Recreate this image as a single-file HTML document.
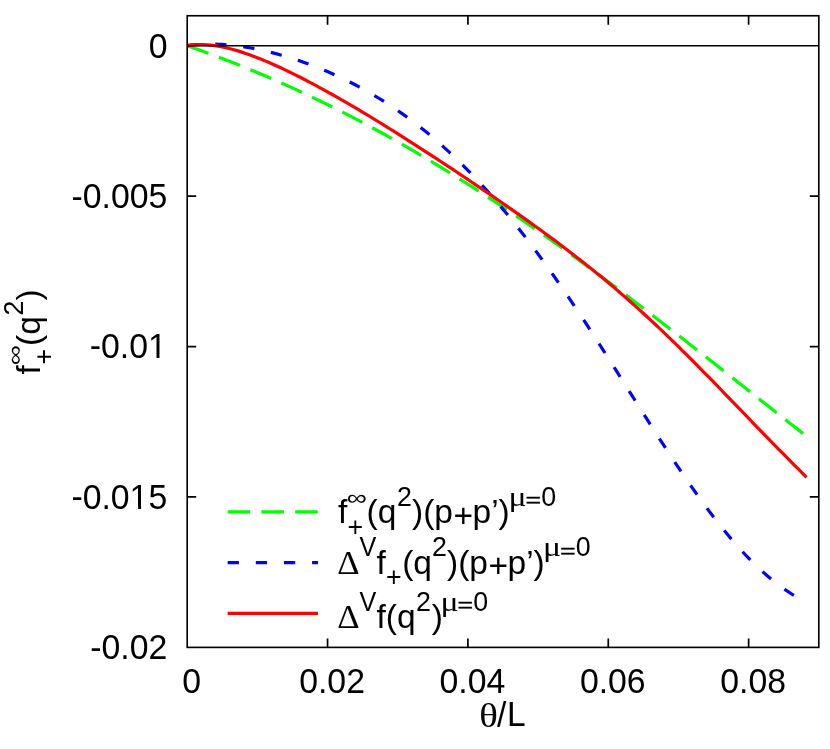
<!DOCTYPE html>
<html><head><meta charset="utf-8"><title>plot</title>
<style>
html,body{margin:0;padding:0;background:#fff;}
body{width:830px;height:749px;overflow:hidden;}
svg{display:block;will-change:transform;opacity:0.999;}
text{font-family:"Liberation Sans",sans-serif;fill:#000;}
.sy{font-family:"Liberation Serif",serif;}
</style></head><body>
<svg width="830" height="749" viewBox="0 0 830 749">
<rect width="830" height="749" fill="#fff"/>

<g fill="none" stroke-width="3.2" stroke-linecap="butt" stroke-linejoin="round">
<path d="M187.20,45.70 L191.09,47.06 L194.99,48.44 L198.88,49.83 L202.78,51.24 L206.67,52.66 L210.57,54.09 L214.46,55.55 L218.36,57.01 L222.25,58.50 L226.15,60.00 L230.04,61.51 L233.94,63.04 L237.83,64.58 L241.73,66.14 L245.62,67.72 L249.52,69.31 L253.41,70.92 L257.31,72.55 L261.20,74.19 L265.10,75.84 L268.99,77.51 L272.89,79.20 L276.78,80.91 L280.68,82.63 L284.57,84.36 L288.47,86.12 L292.36,87.88 L296.26,89.67 L300.15,91.47 L304.05,93.29 L307.94,95.12 L311.84,96.97 L315.73,98.84 L319.63,100.72 L323.52,102.62 L327.42,104.53 L331.31,106.46 L335.21,108.41 L339.10,110.37 L343.00,112.35 L346.89,114.34 L350.79,116.36 L354.68,118.38 L358.58,120.43 L362.47,122.49 L366.37,124.56 L370.26,126.65 L374.16,128.76 L378.05,130.88 L381.95,133.02 L385.84,135.18 L389.74,137.35 L393.63,139.53 L397.53,141.74 L401.42,143.95 L405.32,146.19 L409.21,148.44 L413.11,150.70 L417.00,152.98 L420.90,155.27 L424.79,157.58 L428.69,159.91 L432.58,162.25 L436.48,164.60 L440.37,166.97 L444.27,169.36 L448.16,171.76 L452.06,174.17 L455.95,176.60 L459.85,179.05 L463.74,181.50 L467.64,183.98 L471.53,186.46 L475.43,188.96 L479.32,191.48 L483.22,194.01 L487.11,196.55 L491.01,199.11 L494.90,201.68 L498.80,204.26 L502.69,206.85 L506.59,209.46 L510.48,212.09 L514.38,214.72 L518.27,217.37 L522.17,220.03 L526.06,222.70 L529.96,225.39 L533.85,228.09 L537.75,230.80 L541.64,233.52 L545.54,236.26 L549.43,239.00 L553.33,241.76 L557.22,244.53 L561.12,247.31 L565.01,250.10 L568.91,252.90 L572.80,255.71 L576.70,258.54 L580.59,261.37 L584.49,264.21 L588.38,267.07 L592.28,269.93 L596.17,272.80 L600.07,275.69 L603.96,278.58 L607.86,281.48 L611.75,284.39 L615.65,287.31 L619.54,290.23 L623.44,293.17 L627.33,296.11 L631.23,299.06 L635.12,302.02 L639.02,304.99 L642.91,307.96 L646.81,310.94 L650.70,313.93 L654.60,316.93 L658.49,319.93 L662.39,322.93 L666.28,325.95 L670.18,328.97 L674.07,331.99 L677.97,335.02 L681.86,338.05 L685.76,341.09 L689.65,344.14 L693.55,347.19 L697.44,350.24 L701.34,353.29 L705.23,356.35 L709.13,359.41 L713.02,362.48 L716.92,365.55 L720.81,368.62 L724.71,371.69 L728.60,374.77 L732.50,377.84 L736.39,380.92 L740.29,384.00 L744.18,387.08 L748.08,390.16 L751.97,393.24 L755.87,396.32 L759.76,399.40 L763.66,402.48 L767.55,405.56 L771.45,408.64 L775.34,411.72 L779.24,414.79 L783.13,417.86 L787.03,420.93 L790.92,424.00 L794.82,427.07 L798.71,430.13 L802.61,433.18 L806.50,436.24" stroke="#00ff00" stroke-dasharray="22.51 11.26"/>
<path d="M187.20,45.70 L191.09,45.18 L194.99,44.76 L198.88,44.45 L202.78,44.23 L206.67,44.11 L210.57,44.08 L214.46,44.13 L218.36,44.26 L222.25,44.46 L226.15,44.74 L230.04,45.09 L233.94,45.51 L237.83,45.99 L241.73,46.53 L245.62,47.13 L249.52,47.79 L253.41,48.51 L257.31,49.28 L261.20,50.10 L265.10,50.98 L268.99,51.91 L272.89,52.88 L276.78,53.91 L280.68,54.98 L284.57,56.11 L288.47,57.28 L292.36,58.49 L296.26,59.76 L300.15,61.07 L304.05,62.43 L307.94,63.83 L311.84,65.29 L315.73,66.79 L319.63,68.34 L323.52,69.94 L327.42,71.58 L331.31,73.28 L335.21,75.02 L339.10,76.82 L343.00,78.67 L346.89,80.57 L350.79,82.52 L354.68,84.53 L358.58,86.59 L362.47,88.71 L366.37,90.88 L370.26,93.11 L374.16,95.40 L378.05,97.75 L381.95,100.16 L385.84,102.63 L389.74,105.16 L393.63,107.75 L397.53,110.41 L401.42,113.13 L405.32,115.92 L409.21,118.77 L413.11,121.69 L417.00,124.68 L420.90,127.74 L424.79,130.86 L428.69,134.06 L432.58,137.33 L436.48,140.67 L440.37,144.08 L444.27,147.57 L448.16,151.13 L452.06,154.76 L455.95,158.47 L459.85,162.25 L463.74,166.11 L467.64,170.04 L471.53,174.05 L475.43,178.14 L479.32,182.30 L483.22,186.54 L487.11,190.85 L491.01,195.24 L494.90,199.70 L498.80,204.24 L502.69,208.86 L506.59,213.54 L510.48,218.31 L514.38,223.14 L518.27,228.05 L522.17,233.02 L526.06,238.07 L529.96,243.19 L533.85,248.38 L537.75,253.63 L541.64,258.95 L545.54,264.33 L549.43,269.77 L553.33,275.27 L557.22,280.84 L561.12,286.46 L565.01,292.13 L568.91,297.86 L572.80,303.63 L576.70,309.46 L580.59,315.33 L584.49,321.24 L588.38,327.19 L592.28,333.18 L596.17,339.20 L600.07,345.25 L603.96,351.33 L607.86,357.43 L611.75,363.56 L615.65,369.70 L619.54,375.85 L623.44,382.01 L627.33,388.18 L631.23,394.35 L635.12,400.52 L639.02,406.68 L642.91,412.82 L646.81,418.96 L650.70,425.07 L654.60,431.16 L658.49,437.21 L662.39,443.24 L666.28,449.22 L670.18,455.16 L674.07,461.06 L677.97,466.90 L681.86,472.68 L685.76,478.40 L689.65,484.05 L693.55,489.63 L697.44,495.13 L701.34,500.55 L705.23,505.89 L709.13,511.13 L713.02,516.28 L716.92,521.32 L720.81,526.26 L724.71,531.09 L728.60,535.81 L732.50,540.42 L736.39,544.90 L740.29,549.25 L744.18,553.48 L748.08,557.58 L751.97,561.55 L755.87,565.38 L759.76,569.07 L763.66,572.62 L767.55,576.03 L771.45,579.30 L775.34,582.43 L779.24,585.41 L783.13,588.25 L787.03,590.95 L790.92,593.51 L794.82,595.93 L798.71,598.22 L802.61,600.37 L806.50,602.40" stroke="#0000ff" stroke-dasharray="11.26 16.88"/>
<path d="M187.20,45.70 L191.09,45.11 L194.99,44.74 L198.88,44.57 L202.78,44.57 L206.67,44.75 L210.57,45.09 L214.46,45.56 L218.36,46.18 L222.25,46.91 L226.15,47.76 L230.04,48.71 L233.94,49.76 L237.83,50.90 L241.73,52.12 L245.62,53.42 L249.52,54.79 L253.41,56.23 L257.31,57.73 L261.20,59.28 L265.10,60.89 L268.99,62.55 L272.89,64.26 L276.78,66.01 L280.68,67.80 L284.57,69.63 L288.47,71.49 L292.36,73.39 L296.26,75.33 L300.15,77.29 L304.05,79.29 L307.94,81.31 L311.84,83.36 L315.73,85.44 L319.63,87.54 L323.52,89.67 L327.42,91.81 L331.31,93.98 L335.21,96.18 L339.10,98.39 L343.00,100.62 L346.89,102.87 L350.79,105.14 L354.68,107.43 L358.58,109.74 L362.47,112.06 L366.37,114.40 L370.26,116.75 L374.16,119.12 L378.05,121.50 L381.95,123.90 L385.84,126.31 L389.74,128.74 L393.63,131.17 L397.53,133.62 L401.42,136.08 L405.32,138.55 L409.21,141.04 L413.11,143.53 L417.00,146.03 L420.90,148.54 L424.79,151.07 L428.69,153.60 L432.58,156.13 L436.48,158.68 L440.37,161.24 L444.27,163.80 L448.16,166.37 L452.06,168.95 L455.95,171.54 L459.85,174.14 L463.74,176.74 L467.64,179.35 L471.53,181.97 L475.43,184.59 L479.32,187.23 L483.22,189.87 L487.11,192.52 L491.01,195.18 L494.90,197.85 L498.80,200.53 L502.69,203.22 L506.59,205.92 L510.48,208.64 L514.38,211.36 L518.27,214.10 L522.17,216.85 L526.06,219.61 L529.96,222.39 L533.85,225.18 L537.75,227.99 L541.64,230.82 L545.54,233.67 L549.43,236.53 L553.33,239.41 L557.22,242.32 L561.12,245.24 L565.01,248.19 L568.91,251.16 L572.80,254.15 L576.70,257.17 L580.59,260.22 L584.49,263.29 L588.38,266.39 L592.28,269.51 L596.17,272.67 L600.07,275.85 L603.96,279.07 L607.86,282.31 L611.75,285.59 L615.65,288.90 L619.54,292.24 L623.44,295.61 L627.33,299.02 L631.23,302.45 L635.12,305.92 L639.02,309.43 L642.91,312.96 L646.81,316.53 L650.70,320.13 L654.60,323.76 L658.49,327.43 L662.39,331.12 L666.28,334.85 L670.18,338.60 L674.07,342.38 L677.97,346.19 L681.86,350.03 L685.76,353.89 L689.65,357.77 L693.55,361.68 L697.44,365.60 L701.34,369.55 L705.23,373.51 L709.13,377.49 L713.02,381.49 L716.92,385.49 L720.81,389.51 L724.71,393.53 L728.60,397.56 L732.50,401.60 L736.39,405.64 L740.29,409.68 L744.18,413.71 L748.08,417.75 L751.97,421.78 L755.87,425.81 L759.76,429.82 L763.66,433.83 L767.55,437.83 L771.45,441.83 L775.34,445.81 L779.24,449.77 L783.13,453.73 L787.03,457.68 L790.92,461.62 L794.82,465.55 L798.71,469.48 L802.61,473.40 L806.50,477.33" stroke="#ff0000"/>
<path d="M227.65,511.95 L318.0,511.95" stroke="#00ff00" stroke-dasharray="22.51 11.26"/>
<path d="M227.65,562.6 L318.0,562.6" stroke="#0000ff" stroke-dasharray="11.26 16.88"/>
<path d="M227.65,613.35 L318.0,613.35" stroke="#ff0000"/>
</g>
<g fill="none" stroke="#000" stroke-width="1.65" stroke-linecap="butt">
<path d="M187.2,45.7 L818.8,45.7"/>
<rect x="187.2" y="15.75" width="631.5999999999999" height="631.65"/>
<path d="M327.56,647.4 V638.4 M327.56,15.75 V24.75 M467.91,647.4 V638.4 M467.91,15.75 V24.75 M608.27,647.4 V638.4 M608.27,15.75 V24.75 M748.62,647.4 V638.4 M748.62,15.75 V24.75 M187.2,196.12 H196.2 M818.8,196.12 H809.8 M187.2,346.55 H196.2 M818.8,346.55 H809.8 M187.2,496.97 H196.2 M818.8,496.97 H809.8" stroke-width="1.7"/>
</g>
<g font-size="33.8">
<text transform="translate(191.70,692.8) scale(1.0,1.06)" text-anchor="middle">0</text>
<text transform="translate(332.06,692.8) scale(1.0,1.06)" text-anchor="middle">0.02</text>
<text transform="translate(472.41,692.8) scale(1.0,1.06)" text-anchor="middle">0.04</text>
<text transform="translate(612.77,692.8) scale(1.0,1.06)" text-anchor="middle">0.06</text>
<text transform="translate(753.12,692.8) scale(1.0,1.06)" text-anchor="middle">0.08</text>
<text transform="translate(167.50,58.00) scale(1.0,1.06)" text-anchor="end">0</text>
<text transform="translate(167.30,208.43) scale(1.0,1.06)" text-anchor="end"><tspan dy="-0.7">-</tspan><tspan dy="0.7">0.005</tspan></text>
<text transform="translate(166.80,358.05) scale(1.0,1.06)" text-anchor="end"><tspan dy="-0.7">-</tspan><tspan dy="0.7">0.01</tspan></text>
<text transform="translate(167.20,508.88) scale(1.0,1.06)" text-anchor="end"><tspan dy="-0.7">-</tspan><tspan dy="0.7">0.015</tspan></text>
<text transform="translate(167.30,659.30) scale(1.0,1.06)" text-anchor="end"><tspan dy="-0.7">-</tspan><tspan dy="0.7">0.02</tspan></text>
</g>
<rect x="149.65" y="354.77" width="6.85" height="4.08" fill="#fff"/>
<rect x="159.49" y="354.77" width="7.25" height="4.08" fill="#fff"/>
<rect x="131.25" y="505.60" width="6.85" height="4.08" fill="#fff"/>
<rect x="141.09" y="505.60" width="7.25" height="4.08" fill="#fff"/>
<text transform="translate(479.2,726.6) scale(1.16,1)" font-size="33.5" class="sy">θ</text>
<text transform="translate(497,726.8) scale(1,1.04)" font-size="33.5">/</text>
<text transform="translate(507.1,726.2) scale(1,1.06)" font-size="33.5">L</text>
<text x="338" y="523.1" font-size="33.5">f</text>
<text transform="translate(346.8,505.1) scale(1.054,0.8)" font-size="26.8">∞</text>
<text x="347.5" y="535.9" font-size="26.8">+</text>
<text x="366.5" y="523.1" font-size="33.5">(q</text>
<text transform="translate(397,506.0) scale(1,1.04)" font-size="26.8">2</text>
<text x="412" y="523.1" font-size="33.5">)(p<tspan dy="3.4" dx="0.6">+</tspan><tspan dy="-3.4" dx="-0.6">p’)</tspan></text>
<text transform="translate(508.6,506.0) scale(1.26,1.05)" font-size="26.8" class="sy">μ</text>
<text transform="translate(525.6,506.3) scale(1,0.7)" font-size="26.8" stroke="#000" stroke-width="0.45">=</text>
<text transform="translate(541.25,506.0) scale(1,1.04)" font-size="26.8">0</text>
<text transform="translate(337.2,573.5) scale(1.04,1)" font-size="33.5" class="sy">Δ</text>
<text transform="translate(359.6,556.3) scale(0.94,1)" font-size="26.8">V</text>
<text x="376.5" y="573.5" font-size="33.5">f</text>
<text x="386" y="586.0" font-size="26.8">+</text>
<text x="402.2" y="573.5" font-size="33.5">(q</text>
<text transform="translate(432,556.3) scale(1,1.04)" font-size="26.8">2</text>
<text x="447" y="573.5" font-size="33.5">)(p<tspan dy="3.4" dx="0.6">+</tspan><tspan dy="-3.4" dx="-0.6">p’)</tspan></text>
<text transform="translate(543.05,556.3) scale(1.26,1.05)" font-size="26.8" class="sy">μ</text>
<text transform="translate(560.05,556.6) scale(1,0.7)" font-size="26.8" stroke="#000" stroke-width="0.45">=</text>
<text transform="translate(575.7,556.3) scale(1,1.04)" font-size="26.8">0</text>
<text transform="translate(337.2,627.7) scale(1.04,1)" font-size="33.5" class="sy">Δ</text>
<text transform="translate(359.6,610.5) scale(0.94,1)" font-size="26.8">V</text>
<text x="376.5" y="627.7" font-size="33.5">f</text>
<text x="385.8" y="627.7" font-size="33.5">(q</text>
<text transform="translate(416,610.5) scale(1,1.04)" font-size="26.8">2</text>
<text x="431.8" y="627.7" font-size="33.5">)</text>
<text transform="translate(440.55,610.5) scale(1.26,1.05)" font-size="26.8" class="sy">μ</text>
<text transform="translate(457.55,610.8) scale(1,0.7)" font-size="26.8" stroke="#000" stroke-width="0.45">=</text>
<text transform="translate(473.2,610.5) scale(1,1.04)" font-size="26.8">0</text>
<g transform="translate(40.3,374.5) rotate(-90)">
<text x="0" y="0" font-size="33.5">f</text>
<text transform="translate(9.3,-18.5) scale(1.054,0.8)" font-size="26.8">∞</text>
<text x="10" y="12.3" font-size="26.8">+</text>
<text x="28.5" y="0" font-size="33.5">(q</text>
<text transform="translate(59,-17.2) scale(1,1.04)" font-size="26.8">2</text>
<text x="74" y="0" font-size="33.5">)</text>
</g>
</svg></body></html>
